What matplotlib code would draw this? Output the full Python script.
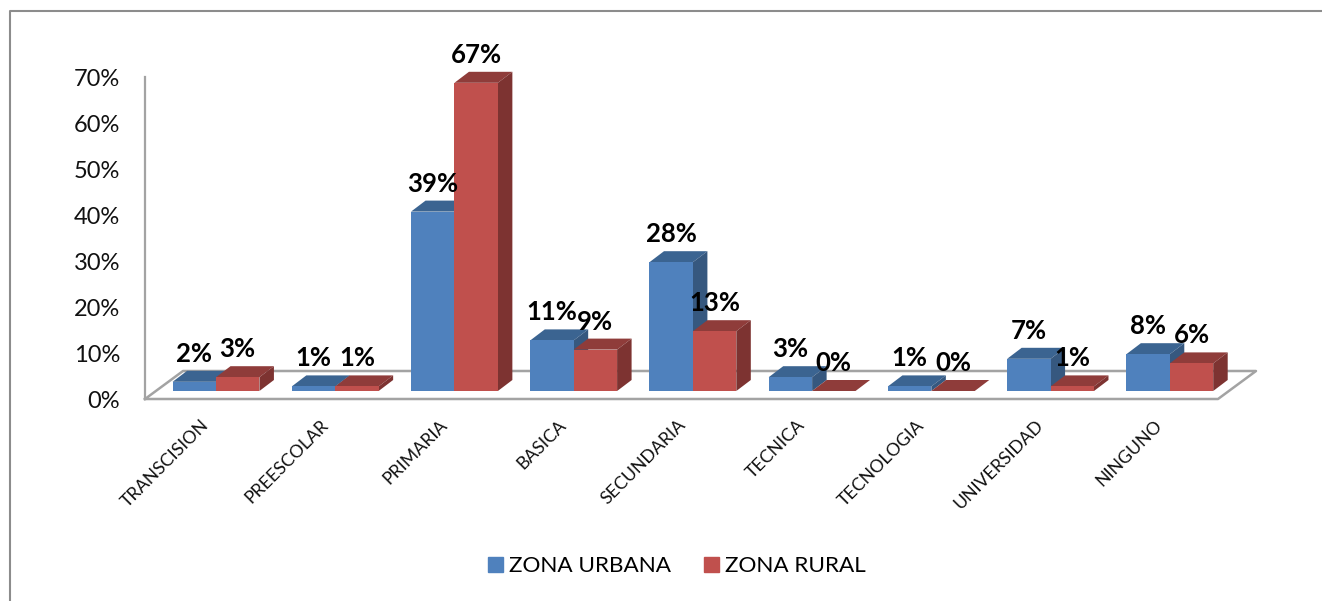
import matplotlib
matplotlib.use("Agg")
import matplotlib.pyplot as plt
from matplotlib.lines import Line2D
from matplotlib.patches import Polygon, Patch
from matplotlib.transforms import ScaledTranslation

plt.rcParams['font.family'] = ['Lato', 'DejaVu Sans']

categories = ["TRANSCISION", "PREESCOLAR", "PRIMARIA", "BASICA", "SECUNDARIA",
              "TECNICA", "TECNOLOGIA", "UNIVERSIDAD", "NINGUNO"]
urbana = [2, 1, 39, 11, 28, 3, 1, 7, 8]
rural = [3, 1, 67, 9, 13, 0, 0, 1, 6]
y_ticks = [0, 10, 20, 30, 40, 50, 60, 70]

W, H = 1322, 601
fig = plt.figure(figsize=(W / 100, H / 100), dpi=100)
ax = fig.add_axes([145 / W, (H - 399) / H, 1073 / W, 322 / H])
ax.set_xlim(0, 9)
ax.set_ylim(0, 70)
ax.patch.set_visible(False)

grey = "#a3a3a3"
for s in ["top", "right", "bottom"]:
    ax.spines[s].set_visible(False)
ax.spines["left"].set_color(grey)
ax.spines["left"].set_linewidth(1.6)

# floor of the 3d box
fx, fy = 38 / 119.2, 28 / 4.6
ax.plot([0, fx, 9 + fx, 9, 0], [0, fy, fy, 0, 0], color=grey, lw=1.8, clip_on=False, zorder=1)

# bars sit a little behind the front of the floor
bar_trans = ax.transData + ScaledTranslation(11.4 / 100, 8 / 100, fig.dpi_scale_trans)
bw = 43.4 / 119.2
dx, dy = 14.5 / 119.2, 11 / 4.6


def draw_bar(x, v, front, top, side, z):
    ax.bar(x, v, bw, align="edge", color=front, transform=bar_trans, clip_on=False, zorder=z + 0.2)
    ax.add_patch(Polygon([(x, v), (x + dx, v + dy), (x + bw + dx, v + dy), (x + bw, v)],
                         color=top, lw=0, transform=bar_trans, clip_on=False, zorder=z))
    ax.add_patch(Polygon([(x + bw, 0), (x + bw + dx, dy), (x + bw + dx, v + dy), (x + bw, v)],
                         color=side, lw=0, transform=bar_trans, clip_on=False, zorder=z))


for i in range(len(categories)):
    c = i + 0.5
    draw_bar(c - bw, urbana[i], "#4f81bd", "#3b6491", "#36587f", 2 + i)
    draw_bar(c, rural[i], "#c0504d", "#8f3c3a", "#7d3331", 2.5 + i)
    for x, v in [(c - bw / 2, urbana[i]), (c + bw / 2, rural[i])]:
        ax.annotate("%d%%" % v, (x, v), xycoords=bar_trans, xytext=(0, 20.2),
                    textcoords="offset points", ha="center", va="center",
                    fontsize=18.5, fontweight="bold", color="black",
                    annotation_clip=False, zorder=30)

ax.set_yticks(y_ticks)
ax.set_yticklabels(["%d%%" % t for t in y_ticks], fontsize=17, color="#111111")
ax.tick_params(axis="y", length=0, pad=18)
ax.set_xticks([i + 0.5 for i in range(len(categories))])
ax.set_xticklabels(categories, rotation=45, ha="right", rotation_mode="anchor",
                   fontsize=12.8, color="#111111")
ax.tick_params(axis="x", length=0, pad=13)
# labels end a bit left of the tick position
shift = ScaledTranslation(-4 / 100, 0, fig.dpi_scale_trans)
for lab in ax.get_xticklabels():
    lab.set_transform(lab.get_transform() + shift)

# outer chart frame, only top and left show in the crop
fig.add_artist(Line2D([10 / W, 10 / W, 1], [0, (H - 11) / H, (H - 11) / H],
                      color="#8c8c8c", lw=1.5, transform=fig.transFigure))

handles = [Patch(color="#4f81bd"), Patch(color="#c0504d")]
fig.legend(handles, ["ZONA URBANA", "ZONA RURAL"], ncol=2, frameon=False, fontsize=16.2,
           loc="center", bbox_to_anchor=(677 / W, (H - 566.5) / H),
           handlelength=0.667, handleheight=0.667, handletextpad=0.27, columnspacing=1.47)

fig.savefig("out.png", dpi=100)
